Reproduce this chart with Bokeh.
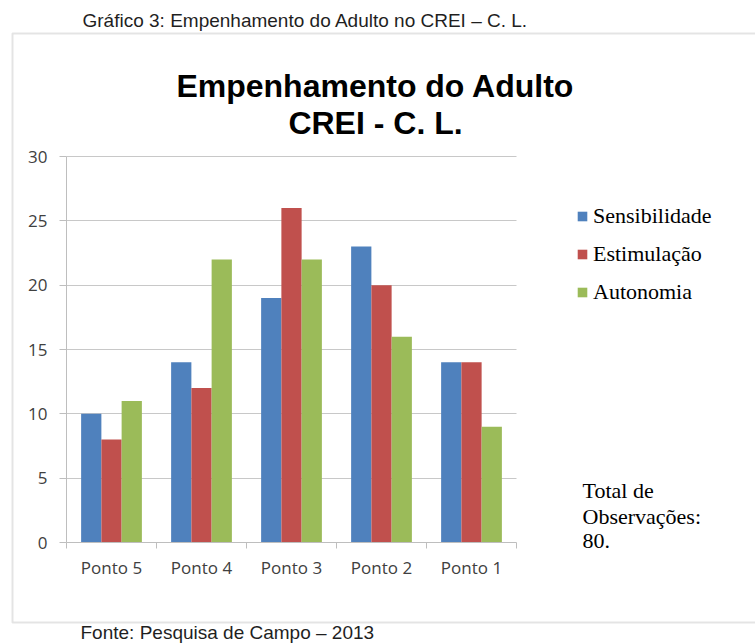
from bokeh.plotting import figure
from bokeh.models import (Range1d, FixedTicker, Label, Legend, LegendItem,
                          BoxAnnotation, ColumnDataSource)
from bokeh.embed import file_html
from bokeh.resources import INLINE

# ---- data ----
categories = ["Ponto 5", "Ponto 4", "Ponto 3", "Ponto 2", "Ponto 1"]
series_names = ["Sensibilidade", "Estimulação", "Autonomia"]
sensibilidade = [10, 14, 19, 23, 14]
estimulacao = [8, 12, 26, 20, 14]
autonomia = [11, 22, 22, 16, 9]
y_ticks = [0, 5, 10, 15, 20, 25, 30]
colors = ["#4F81BD", "#C0504D", "#9BBB59"]

caption = "Gráfico 3: Empenhamento do Adulto no CREI – C. L."
title_lines = ["Empenhamento do Adulto", "CREI - C. L."]
note_lines = ["Total de", "Observações:", "80."]
source_text = "Fonte: Pesquisa de Campo – 2013"

# ---- layout (pixels) ----
W, H = 755, 644
PL, PR = 66, 516      # plot area left/right on the canvas
PT, PB = 156, 542     # plot area top/bottom on the canvas
y_max = 30
n = len(categories)
px_x = (PR - PL) / n
px_y = (PB - PT) / y_max

x_range = Range1d(-PL / px_x, n + (W - PR) / px_x)
y_range = Range1d(-(H - PB) / px_y, y_max + PT / px_y)

p = figure(width=W, height=H, output_backend="svg", toolbar_location=None,
           x_range=x_range, y_range=y_range, min_border=0)
p.outline_line_color = None

bar_w = 0.225
offsets = [-bar_w, 0.0, bar_w]
renderers = []
for vals, off, col in zip([sensibilidade, estimulacao, autonomia], offsets, colors):
    src = ColumnDataSource(dict(
        x=[i + 0.5 + off for i in range(n)],
        top=vals,
        cat=categories))
    r = p.vbar(x="x", top="top", bottom=0, width=bar_w, source=src,
               fill_color=col, line_color=None)
    renderers.append(r)

grey = "#BEBEBE"
xa = p.xaxis[0]
xa.fixed_location = 0
xa.bounds = (0, n)
xa.ticker = FixedTicker(ticks=[i + 0.5 for i in range(n)],
                        minor_ticks=list(range(n + 1)))
xa.major_label_overrides = {i + 0.5: c for i, c in enumerate(categories)}
xa.major_tick_out = 0
xa.major_tick_in = 0
xa.minor_tick_out = 6
xa.minor_tick_in = 0
xa.minor_tick_line_color = grey
xa.axis_line_color = grey
xa.major_label_standoff = 7
xa.major_label_text_font = "Open Sans"
xa.major_label_text_font_size = "17px"
xa.major_label_text_color = "#404040"

ya = p.yaxis[0]
ya.fixed_location = 0
ya.bounds = (0, y_max)
ya.ticker = FixedTicker(ticks=y_ticks)
ya.major_tick_out = 7
ya.major_tick_in = 0
ya.minor_tick_line_color = None
ya.major_tick_line_color = grey
ya.axis_line_color = grey
ya.major_label_standoff = 12
ya.major_label_text_font = "Open Sans"
ya.major_label_text_font_size = "17px"
ya.major_label_text_color = "#404040"

p.xgrid.grid_line_color = None
gl = p.ygrid[0]
gl.ticker = FixedTicker(ticks=y_ticks[1:])
gl.grid_line_color = "#C8C8C8"
try:
    gl.cross_bounds = (0, n)
except Exception:
    gl.grid_line_color = None
    p.segment(x0=0, x1=n, y0=y_ticks[1:], y1=y_ticks[1:], line_color="#C8C8C8",
              level="underlay")

def sx(ref_x):
    return ref_x

def sy(ref_y, size=0):
    # labels drawn with an alphabetic baseline land about 0.37em lower
    return H - (ref_y - 0.37 * size)

# legend
legend = Legend(items=[LegendItem(label=nm, renderers=[r]) for nm, r in zip(series_names, renderers)],
                location=(sx(576), sy(305)), padding=0, margin=0, spacing=12,
                glyph_width=12, glyph_height=12, label_standoff=5,
                label_text_font="Liberation Serif", label_text_font_size="22px",
                label_text_color="black", border_line_color=None,
                background_fill_alpha=0)
p.add_layout(legend)

# outer chart border
p.add_layout(BoxAnnotation(left=sx(12), right=sx(800), top=sy(33), bottom=sy(622),
                           left_units="screen", right_units="screen",
                           top_units="screen", bottom_units="screen",
                           fill_color=None, line_color="#A6A6A6", line_width=2))

# caption and source
p.add_layout(Label(x=sx(82), y=sy(27, 19), x_units="screen", y_units="screen",
                   text=caption, text_font="Liberation Sans", text_font_size="19px",
                   text_color="#1f1f1f", text_baseline="alphabetic"))
p.add_layout(Label(x=sx(80), y=sy(639, 19), x_units="screen", y_units="screen",
                   text=source_text, text_font="Liberation Sans", text_font_size="19px",
                   text_color="#1f1f1f", text_baseline="alphabetic"))

# chart title
for line, by in zip(title_lines, [97, 134]):
    p.add_layout(Label(x=sx(375), y=sy(by, 32), x_units="screen", y_units="screen",
                       text=line, text_font="Liberation Sans", text_font_style="bold",
                       text_font_size="32px", text_color="black",
                       text_align="center", text_baseline="alphabetic"))

# note
for line, by in zip(note_lines, [498, 524, 549]):
    p.add_layout(Label(x=sx(582), y=sy(by, 22), x_units="screen", y_units="screen",
                       text=line, text_font="Liberation Serif", text_font_size="22px",
                       text_color="black", text_baseline="alphabetic"))

open("out.html", "w").write(file_html(p, INLINE))
